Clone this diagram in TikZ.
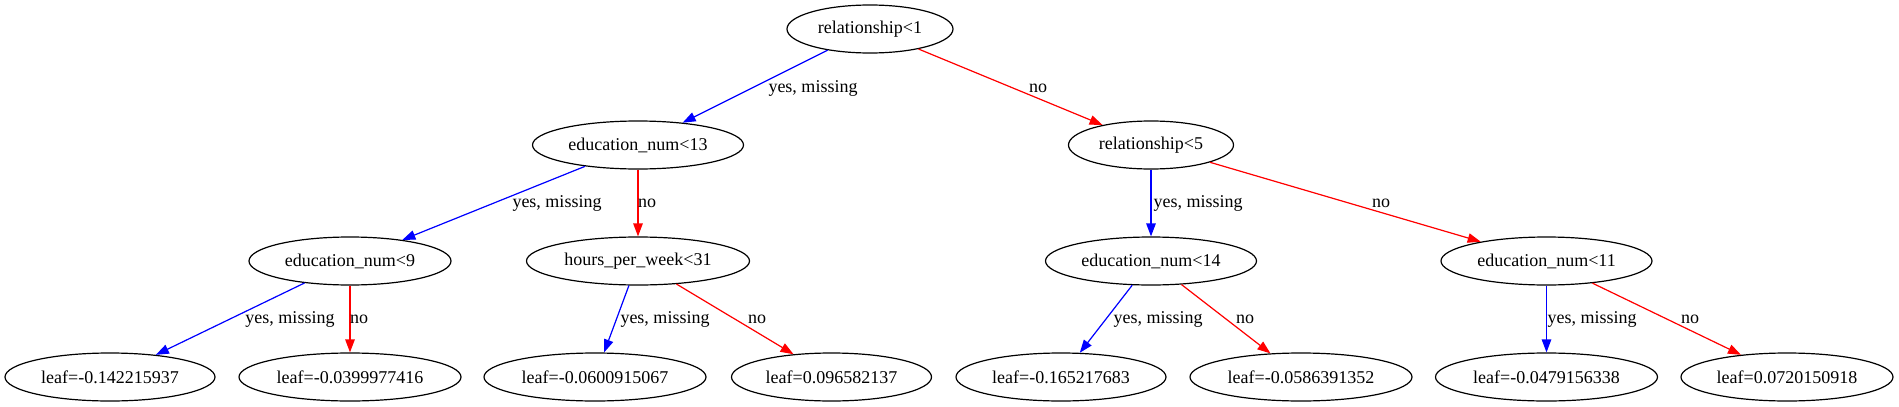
\documentclass[tikz,border=0pt]{standalone}
\usepackage{fontspec}
\setmainfont{Liberation Serif}
\usetikzlibrary{arrows.meta,shapes.geometric}
\definecolor{gvblue}{HTML}{0000FF}
\definecolor{gvred}{HTML}{FF0000}

\begin{document}
\begin{tikzpicture}[
  x=1pt, y=-1pt,
  split/.style   = {ellipse, draw=black, line width=1.2pt, inner sep=0pt,
                    minimum height=48pt, font=\fontsize{18}{21}\selectfont},
  leafnode/.style= {split},
  yesedge/.style = {-{Triangle[length=13pt,width=9.5pt]}, draw=gvblue,
                    fill=gvblue, line width=1.2pt},
  noedge/.style  = {-{Triangle[length=13pt,width=9.5pt]}, draw=gvred,
                    fill=gvred, line width=1.2pt},
  elab/.style    = {font=\fontsize{18}{21}\selectfont, inner sep=0pt},
]
\useasboundingbox (0,0) rectangle (1899,407);
% splits
\node[split, minimum width=166pt] (rel1)  at (870,29)    {relationship<1};
\node[split, minimum width=211pt] (edu13) at (638,145)   {education\_num<13};
\node[split, minimum width=165pt] (rel5)  at (1151,145)  {relationship<5};
\node[split, minimum width=202pt] (edu9)  at (350,261)   {education\_num<9};
\node[split, minimum width=223pt] (hpw31) at (638,261)   {hours\_per\_week<31};
\node[split, minimum width=211pt] (edu14) at (1151,261)  {education\_num<14};
\node[split, minimum width=211pt] (edu11) at (1546.5,261){education\_num<11};
% leaves
\node[leafnode, minimum width=210pt] (lf1) at (110,377)   {leaf=-0.142215937};
\node[leafnode, minimum width=222pt] (lf2) at (350,377)   {leaf=-0.0399977416};
\node[leafnode, minimum width=222pt] (lf3) at (595,377)   {leaf=-0.0600915067};
\node[leafnode, minimum width=200pt] (lf4) at (831.5,377) {leaf=0.096582137};
\node[leafnode, minimum width=210pt] (lf5) at (1061,377)  {leaf=-0.165217683};
\node[leafnode, minimum width=222pt] (lf6) at (1301,377)  {leaf=-0.0586391352};
\node[leafnode, minimum width=222pt] (lf7) at (1546.5,377){leaf=-0.0479156338};
\node[leafnode, minimum width=212pt] (lf8) at (1787,377)  {leaf=0.0720150918};
% edges
\draw[yesedge] (rel1) -- (edu13);
\draw[noedge]  (rel1) -- (rel5);
\draw[yesedge] (edu13) -- (edu9);
\draw[noedge]  (edu13) -- (hpw31);
\draw[yesedge] (rel5) -- (edu14);
\draw[noedge]  (rel5) -- (edu11);
\draw[yesedge] (edu9) -- (lf1);
\draw[noedge]  (edu9) -- (lf2);
\draw[yesedge] (hpw31) -- (lf3);
\draw[noedge]  (hpw31) -- (lf4);
\draw[yesedge] (edu14) -- (lf5);
\draw[noedge]  (edu14) -- (lf6);
\draw[yesedge] (edu11) -- (lf7);
\draw[noedge]  (edu11) -- (lf8);
% edge labels
\node[elab] (y1) at (813,88.5)   {yes, missing};
\node[elab] (n1) at (1038,88.5)  {no};
\node[elab] (y2) at (557,203.5)  {yes, missing};
\node[elab] (n2) at (647,203.5)  {no};
\node[elab] (y3) at (1198,203.5) {yes, missing};
\node[elab] (n3) at (1381,203.5) {no};
\node[elab] (y4) at (290,319.5)  {yes, missing};
\node[elab] (n4) at (359,319.5)  {no};
\node[elab] (y5) at (665,319.5)  {yes, missing};
\node[elab] (n5) at (757,319.5)  {no};
\node[elab] (y6) at (1158,319.5) {yes, missing};
\node[elab] (n6) at (1245,319.5) {no};
\node[elab] (y7) at (1592,319.5) {yes, missing};
\node[elab] (n7) at (1690,319.5) {no};
\end{tikzpicture}
\end{document}
